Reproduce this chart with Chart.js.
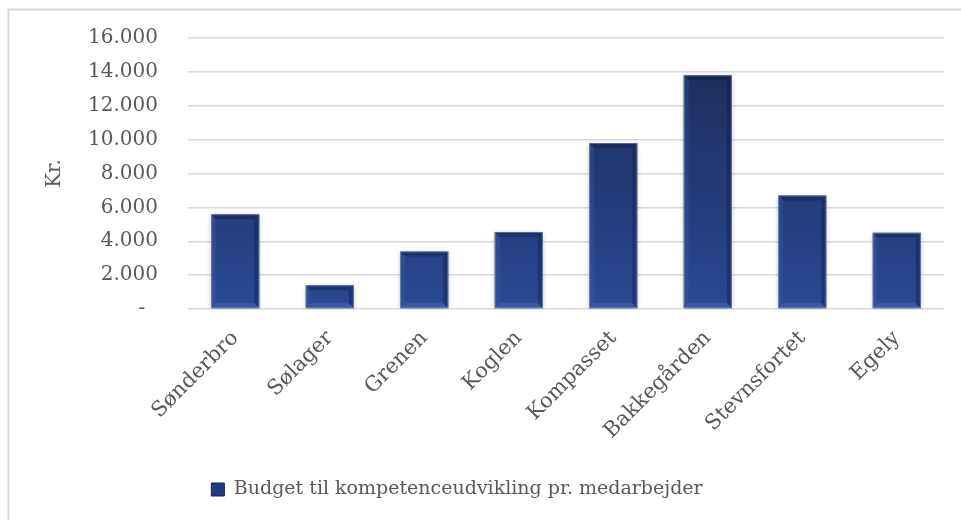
<!DOCTYPE html>
<html><head><meta charset="utf-8">
<script src="https://cdn.jsdelivr.net/npm/chart.js@4.4.1/dist/chart.umd.min.js"></script>
<style>html,body{margin:0;padding:0;background:#fff;overflow:hidden}</style>
</head><body>
<canvas id="c" width="961" height="520" style="display:block;width:961px;height:520px"></canvas>
<script>
const categories = ['Sønderbro','Sølager','Grenen','Koglen','Kompasset','Bakkegården','Stevnsfortet','Egely'];
const budgetValues = [5600, 1400, 3400, 4550, 9800, 13800, 6700, 4500];
const seriesLabel = 'Budget til kompetenceudvikling pr. medarbejder';
const yTickValues = [0, 2000, 4000, 6000, 8000, 10000, 12000, 14000, 16000];
const yAxisTitle = 'Kr.';

const FONT = "'DejaVu Serif', serif";
const TEXT = '#595959';

function fmt(v){
  if (v === 0) return '-  ';
  return String(v).replace(/\B(?=(\d{3})+(?!\d))/g, '.');
}

function barGradient(ctx){
  const c = ctx.chart, a = c.chartArea;
  if (!a) return '#22397a';
  const g = c.ctx.createLinearGradient(0, a.top, 0, a.bottom);
  g.addColorStop(0, '#1c2a56');
  g.addColorStop(1, '#2a4894');
  return g;
}

const frame = {
  id: 'frame',
  beforeDraw(chart){
    const ctx = chart.ctx;
    ctx.save();
    ctx.fillStyle = '#fff';
    ctx.fillRect(0, 0, chart.width, chart.height);
    ctx.strokeStyle = '#d9d9d9';
    ctx.lineWidth = 2;
    ctx.beginPath();
    ctx.moveTo(8.5, chart.height + 5);
    ctx.lineTo(8.5, 9.5);
    ctx.lineTo(chart.width + 5, 9.5);
    ctx.stroke();
    ctx.restore();
  }
};

const legendShift = {
  id: 'legendShift',
  afterLayout(chart){
    const lg = chart.legend;
    if (lg) { lg.left -= 15; lg.right -= 15; }
  }
};

const shadow = {
  id: 'shadow',
  beforeDatasetDraw(chart){
    const ctx = chart.ctx;
    ctx.save();
    ctx.shadowColor = 'rgba(0,0,0,0.28)';
    ctx.shadowBlur = 5;
    ctx.shadowOffsetX = 0;
    ctx.shadowOffsetY = 1;
  },
  afterDatasetDraw(chart){
    chart.ctx.restore();
  }
};

function poly(ctx, pts, color){
  ctx.beginPath();
  ctx.moveTo(pts[0][0], pts[0][1]);
  for (let i = 1; i < pts.length; i++) ctx.lineTo(pts[i][0], pts[i][1]);
  ctx.closePath();
  ctx.fillStyle = color;
  ctx.fill();
}

const bevel = {
  id: 'bevel',
  afterDatasetsDraw(chart){
    const ctx = chart.ctx;
    ctx.save();
    chart.getDatasetMeta(0).data.forEach(el => {
      const p = el.getProps(['x','y','base','width'], true);
      const l = p.x - p.width/2, r = p.x + p.width/2, t = p.y, b = p.base;
      const d = Math.min(5, (b - t) / 3);
      poly(ctx, [[l,t],[r,t],[r-d,t+d],[l+d,t+d]], 'rgba(12,22,48,0.35)');
      poly(ctx, [[l,b],[r,b],[r-d,b-d],[l+d,b-d]], 'rgba(95,125,195,0.35)');
      poly(ctx, [[l,t],[l+d,t+d],[l+d,b-d],[l,b]], 'rgba(80,110,180,0.2)');
      poly(ctx, [[r,t],[r-d,t+d],[r-d,b-d],[r,b]], 'rgba(10,18,40,0.3)');
      ctx.strokeStyle = 'rgba(150,170,210,0.5)';
      ctx.lineWidth = 1;
      ctx.strokeRect(l + 0.5, t + 0.5, p.width - 1, b - t - 1);
    });
    ctx.restore();
  }
};

new Chart(document.getElementById('c'), {
  type: 'bar',
  data: {
    labels: categories,
    datasets: [{
      label: seriesLabel,
      data: budgetValues,
      backgroundColor: barGradient,
      borderWidth: 0,
      barPercentage: 0.51,
      categoryPercentage: 1.0
    }]
  },
  options: {
    responsive: false,
    animation: false,
    devicePixelRatio: 1,
    layout: { padding: { left: 0, right: 17, top: 38, bottom: 11 } },
    plugins: {
      tooltip: { enabled: false },
      legend: {
        position: 'bottom',
        labels: {
          boxWidth: 13, boxHeight: 13,
          color: TEXT,
          font: { family: FONT, size: 19 },
          padding: 10,
          generateLabels(chart){
            return [{
              text: seriesLabel,
              fillStyle: '#203a7e',
              strokeStyle: '#12244d',
              lineWidth: 1,
              fontColor: TEXT,
              datasetIndex: 0
            }];
          }
        }
      }
    },
    scales: {
      x: {
        grid: { display: false, drawTicks: false },
        border: { display: false },
        ticks: {
          color: TEXT,
          font: { family: FONT, size: 21 },
          minRotation: 45, maxRotation: 45,
          padding: 17,
          autoSkip: false
        },
        afterFit(s){ s.height = 161; }
      },
      y: {
        min: 0, max: 16000,
        grid: { color: '#d9d9d9', lineWidth: 1.5, drawTicks: false },
        border: { display: false },
        ticks: {
          color: TEXT,
          font: { family: FONT, size: 20 },
          padding: 30,
          callback: v => fmt(v)
        },
        afterBuildTicks(s){ s.ticks = yTickValues.map(v => ({ value: v })); },
        title: {
          display: true,
          text: yAxisTitle,
          color: TEXT,
          font: { family: FONT, size: 20 },
          padding: { top: 43, bottom: 0 }
        },
        afterFit(s){ s.width = 188; s.paddingTop = 0; s.paddingBottom = 0; }
      }
    }
  },
  plugins: [frame, legendShift, shadow, bevel]
});
</script>
</body></html>
